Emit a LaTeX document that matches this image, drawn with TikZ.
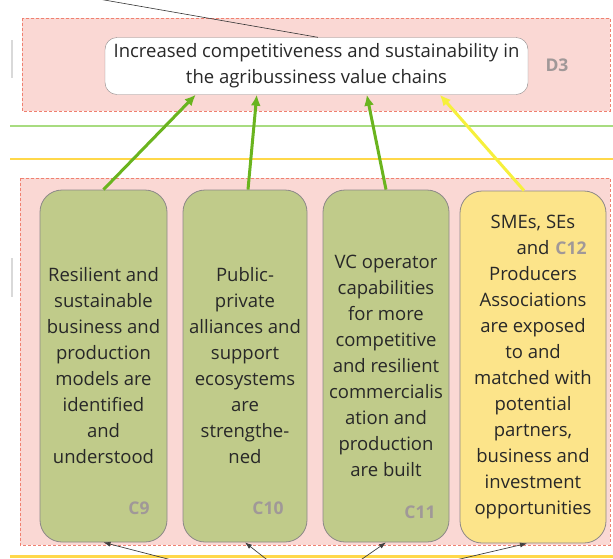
\documentclass[tikz,border=0pt]{standalone}
\usepackage{fontspec}
\setmainfont{Open Sans}
\usetikzlibrary{positioning,arrows.meta}
\definecolor{zonefill}{RGB}{250,216,212}
\definecolor{zoneline}{RGB}{240,128,112}
\definecolor{boxline}{RGB}{140,136,136}
\definecolor{greenbox}{RGB}{192,203,138}
\definecolor{yellowbox}{RGB}{252,228,138}
\definecolor{greenfeed}{RGB}{106,180,30}
\definecolor{yellowfeed}{RGB}{246,240,60}
\definecolor{greenband}{RGB}{168,220,128}
\definecolor{yellowband}{RGB}{255,216,74}
\definecolor{tagcolor}{RGB}{160,152,152}
\definecolor{inkcolor}{RGB}{40,40,40}
\tikzset{
    zone/.style ={
        draw=zoneline,
        fill=zonefill,
        dash pattern=on 3pt off 2pt,
        line width=0.8pt
    },
    goal/.style ={
        shape=rectangle,
        rounded corners=12pt,
        draw=boxline,
        fill=white,
        text=inkcolor,
        align=center,
        minimum width=423pt,
        minimum height=57pt,
        inner sep=0pt,
        font=\fontsize{18.5}{26}\selectfont
    },
    output/.style ={
        shape=rectangle,
        rounded corners=22pt,
        draw=boxline,
        line width=0.8pt,
        text=inkcolor,
        align=center,
        minimum height=352pt,
        inner sep=0pt,
        font=\fontsize{18.5}{26}\selectfont
    },
    tag/.style ={
        text=tagcolor,
        font=\fontsize{17.5}{20}\selectfont\bfseries
    },
    feed/.style ={
        line width=3pt,
        -{Latex[length=11pt,width=10pt]}
    },
    link/.style ={
        draw=black!75,
        line width=0.7pt,
        -{Latex[length=7pt,width=5pt]}
    }
}

\begin{document}
\begin{tikzpicture}[x=1pt,y=-1pt]
    \useasboundingbox (0,0) rectangle (613,558);
    \clip (0,0) rectangle (613,558);

    % side marks and bands
    \draw[black!15, line width=2pt] (12,40) -- (12,78);
    \draw[black!15, line width=2pt] (12,258) -- (12,297);
    \draw[greenband, line width=1.2pt] (10,126) -- (613,126);
    \draw[yellowband, line width=2pt] (10,159) -- (613,159);
    \draw[yellowband, line width=3pt] (10,556.5) -- (613,556.5);

    % zones
    \draw[zone] (22,18) rectangle (610,111);
    \draw[zone] (20,178) rectangle (610,545);

    \node[goal] (d3) at (316.5,66) {Increased competitiveness and sustainability in\\the agribussiness value chains};
    \node[tag] (td3) at (557,65) {D3};

    \node[output, fill=greenbox, minimum width=127pt] (c9) at (103.5,366) {Resilient and\\sustainable\\business and\\production\\models are\\identified\\and\\understood};
    \node[output, fill=greenbox, minimum width=124pt] (c10) at (245,366) {Public-\\private\\alliances and\\support\\ecosystems\\are\\strengthe-\\ned};
    \node[output, fill=greenbox, minimum width=126pt] (c11) at (386,366) {VC operator\\capabilities\\for more\\competitive\\and resilient\\commercialis\\ation and\\production\\are built};
    \node[output, fill=yellowbox, minimum width=146pt] (c12) at (533,367) {SMEs, SEs\\and\hspace*{52pt}\\Producers\\Associations\\are exposed\\to and\\matched with\\potential\\partners,\\business and\\investment\\opportunities};

    \node[tag] (t9) at (139,508) {C9};
    \node[tag] (t10) at (268,508) {C10};
    \node[tag] (t11) at (420,512) {C11};
    \node[tag] (t12) at (571,248) {C12};

    % contributions to D3
    \draw[feed, greenfeed] (c9.north) -- ([xshift=91pt]d3.south west);
    \draw[feed, greenfeed] ([xshift=3pt]c10.north) -- ([xshift=152pt]d3.south west);
    \draw[feed, greenfeed] (c11.north) -- ([xshift=262pt]d3.south west);
    \draw[feed, yellowfeed] ([xshift=-9pt]c12.north) -- ([xshift=335pt]d3.south west);

    % links from outside
    \coordinate (above) at (90,-2.5);
    \draw[black!80, line width=0.6pt] (above) -- ([xshift=213pt]d3.north west);
    \coordinate (s9) at (195,566);
    \coordinate (s10) at (275,566);
    \coordinate (s11) at (352,566);
    \coordinate (s12) at (430,566);
    \draw[link] (s9) -- (c9.south);
    \draw[link] (s10) -- (c10.south);
    \draw[link] (s11) -- (c11.south);
    \draw[link] (s12) -- ([xshift=-6pt]c12.south);
\end{tikzpicture}
\end{document}
